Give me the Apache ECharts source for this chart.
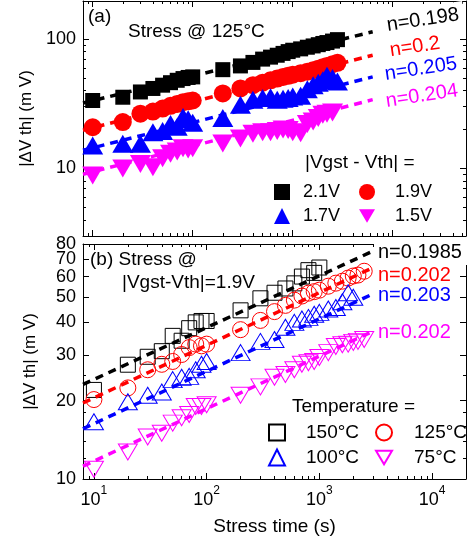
<!DOCTYPE html>
<html lang="en">
<head>
<meta charset="UTF-8">
<title>Vth shift vs stress time</title>
<script src="https://cdn.jsdelivr.net/npm/echarts@6/dist/echarts.min.js"></script>
<style>
  html, body { margin: 0; padding: 0; background: #fff; }
  #main { width: 472px; height: 540px; }
</style>
</head>
<body>
<div id="main"></div>
<script>
// ---- (a) stress @ 125C, four |Vgst - Vth| levels ----
var timeA = [10, 20, 30, 40, 50, 60, 70, 80, 90, 100, 200, 300, 400, 500, 600, 700, 800, 900, 1000,
             1200, 1400, 1600, 1800, 2000, 2200, 2500, 2800];
var dv21 = [33.5, 35.5, 39, 41.5, 44, 46, 48, 49.5, 50.5, 51, 58, 62, 66, 70, 72.5, 75, 77.5, 80, 82,
            84, 86.5, 88.5, 90.5, 92.5, 94, 96.5, 99];
var dv19 = [20.8, 22.8, 26.5, 27.5, 29, 30.5, 31.5, 32.5, 33, 33.5, 38, 41.5, 44, 46, 48, 49.5, 51, 52, 53,
            54.5, 56, 57.5, 59, 60.5, 62, 64, 65.5];
var dv17 = [15, 15.5, 15.5, 19, 19.5, 22, 21, 25, 24, 22.5, 24.5, 31, 34, 35, 35.5, 34, 34.5, 35, 36,
            36.5, 41, 44, 46, 48, 52, 50, 47];
var dv15 = [8.8, 10, 10.8, 10.2, 12, 13, 13.5, 14.3, 14, 14.3, 15.6, 17, 18.5, 19, 19, 19.5, 20, 19.8, 19,
            18.7, 22, 23, 24.5, 26, 26.5, 27, null];
// fitted power-law lines, end points
var fitTimeA = [8, 6300];
var fit21 = [32, 114];
var fit19 = [19.7, 75];
var fit17 = [13.8, 51];
var fit15 = [9, 34];
var slopeA = ['n=0.198', 'n=0.2', 'n=0.205', 'n=0.204'];

// ---- (b) |Vgst - Vth| = 1.9V, four temperatures ----
var timeB = [10, 20, 30, 40, 50, 60, 70, 80, 90, 100, 200, 300, 400, 500, 600, 700, 800, 900, 1000,
             1200, 1400, 1600, 1800, 2000, 2200, 2500];
var dv150 = [22, 27.5, 29.5, 31, 35.5, 34, 38, 40, 40.5, 40.5, 44.5, 49.5, 52, 54, 56.5, 60, 63.5, 62, 65,
             null, null, null, null, null, null, null];
var dv125 = [20.2, 22.4, 26.3, 27.6, 28.3, 30.1, 32, 33, 32.5, 33, 37.5, 40.7, 44, 46.5, 48.7, 50.5, 51.8, 52.5, 53.2,
             55.1, 56.6, 57.6, 59.2, 60.3, 60.8, 62.9];
var dv100 = [16.6, 19.8, 21, 21.6, 24.1, 24.6, 24.8, 26.3, 27.6, 28.3, 30.6, 33.8, 34.4, 38.3, 40, 41.2, 41.8, 43, 43.7,
             45, 45.6, 48, 52, 50, null, null];
var dv75 = [10.9, 12.7, 14.5, 15, 16.4, 17.2, 17.7, 19, 19, 19.3, 21, 22.6, 24.6, 25.2, 26.3, 27.6, 28, 28.3, 29.3,
            30.6, 32.3, 32.8, 33, 33.5, 33.8, 34.4];
var fitTimeB = [8, 3000];
var fit150 = [23.1, 75.2];
var fit125 = [19.6, 65];
var fit100 = [15.6, 51.5];
var fit75 = [11.2, 37];
var slopeB = ['n=0.1985', 'n=0.202', 'n=0.203', 'n=0.202'];

// tick values
var xMajor = [10, 100, 1000, 10000];
var xMinorA = [8, 9, 20, 30, 40, 50, 60, 70, 80, 90, 200, 300, 400, 500, 600, 700, 800, 900,
               2000, 3000, 4000, 5000, 6000, 7000, 8000, 9000, 20000, 30000, 40000, 50000];
var xMinorB = xMinorA.filter(function (v) { return v < 20000; });
var yMajorA = [10, 100];
var yMinorA = [3, 4, 5, 6, 7, 8, 9, 20, 30, 40, 50, 60, 70, 80, 90];
var yMajorB = [10, 20, 30, 40, 50, 60, 70, 80];
var yMinorB = [12, 14, 16, 18, 25];

var FONT = 'Liberation Sans, Arial, sans-serif';
var colors = ['#000000', '#ff0000', '#0000ff', '#ff00ff'];
var downTri = 'path://M0,0 L20,0 L10,17 Z';

var rangeXA = [8, 54000], rangeXB = [8, 20000];
var rangeYA = [3, 197], rangeYB = [10, 80.05];

function axisPair(grid, side, range, major, minor, label, extra, minorLabel) {
    var base = { type: 'log', gridIndex: grid, position: side, min: range[0], max: range[1],
                 splitLine: { show: false }, minorTick: { show: false } };
    var a = Object.assign({}, base, {
        axisLine: { show: true, onZero: false, lineStyle: { color: '#000', width: 1 } },
        axisTick: { show: true, inside: true, length: 6, customValues: major, lineStyle: { color: '#000', width: 1 } },
        axisLabel: label || { show: false }
    }, extra || {});
    var b = Object.assign({}, base, {
        axisLine: { show: false },
        axisTick: { show: true, inside: true, length: 3, customValues: minor, lineStyle: { color: '#000', width: 1 } },
        axisLabel: minorLabel || { show: false }
    });
    return [a, b];
}

var yName = {
    name: '|\u0394V th| (m V)', nameLocation: 'middle', nameGap: 44,
    nameTextStyle: { fontFamily: FONT, fontSize: 17, color: '#000' }
};
var yLabel = { show: true, fontFamily: FONT, fontSize: 18, color: '#000', margin: 7,
               hideOverlap: false, showMaxLabel: true, showMinLabel: true };
function yLabelAt(vals) { return Object.assign({ customValues: vals }, yLabel); }

var xAxes = [].concat(
    axisPair(0, 'bottom', rangeXA, xMajor, xMinorA),
    axisPair(0, 'top', rangeXA, xMajor, xMinorA),
    axisPair(1, 'bottom', rangeXB, xMajor, xMinorB, {
        show: true, customValues: xMajor, margin: 6,
        formatter: function (v) { return '{b|10}{s|' + Math.round(Math.log10(v)) + '}'; },
        rich: {
            b: { fontFamily: FONT, fontSize: 18, color: '#000', verticalAlign: 'bottom', lineHeight: 24 },
            s: { fontFamily: FONT, fontSize: 12, color: '#000', verticalAlign: 'top', lineHeight: 24 }
        }
    }, {
        name: 'Stress time (s)', nameLocation: 'middle', nameGap: 38,
        nameTextStyle: { fontFamily: FONT, fontSize: 19, color: '#000' }
    }),
    axisPair(1, 'top', rangeXB, xMajor, xMinorB)
);
// the crowded labels of (b) are shared between the two left axes (every other one),
// so ECharts keeps all of 10 ... 80 even though 60 / 70 / 80 touch each other
var labelsB1 = yMajorB.filter(function (v, i) { return i < 4 || i % 2 === 1; });
var labelsB2 = yMajorB.filter(function (v, i) { return i >= 4 && i % 2 === 0; });
var yAxes = [].concat(
    axisPair(0, 'left', rangeYA, yMajorA, yMinorA, yLabelAt(yMajorA), yName),
    axisPair(0, 'right', rangeYA, yMajorA, yMinorA),
    axisPair(1, 'left', rangeYB, yMajorB, yMinorB, yLabelAt(labelsB1), yName, yLabelAt(labelsB2)),
    axisPair(1, 'right', rangeYB, yMajorB, yMinorB)
);

function pairs(ts, vs) {
    var out = [];
    for (var i = 0; i < ts.length; i++) if (vs[i] != null) out.push([ts[i], vs[i]]);
    return out;
}

function fitLine(axisIdx, ts, vs, color, z) {
    return {
        type: 'line', xAxisIndex: axisIdx, yAxisIndex: axisIdx, data: pairs(ts, vs),
        symbol: 'none', silent: true, z: z,
        lineStyle: { color: color, width: 3.5, type: [8, 6] }
    };
}

function dots(name, axisIdx, ts, vs, color, symbol, size, rotate, filled) {
    return {
        type: 'scatter', name: name, xAxisIndex: axisIdx, yAxisIndex: axisIdx,
        data: pairs(ts, vs), symbol: symbol, symbolSize: size, symbolRotate: rotate || 0, z: 3,
        itemStyle: filled ? { color: color, opacity: 1 }
                          : { color: 'rgba(0,0,0,0)', borderColor: color, borderWidth: 1, opacity: 1 }
    };
}

var series = [
    fitLine(0, fitTimeA, fit21, colors[0], 2),
    fitLine(0, fitTimeA, fit19, colors[1], 2),
    fitLine(0, fitTimeA, fit17, colors[2], 2),
    fitLine(0, fitTimeA, fit15, colors[3], 2),
    dots('2.1V', 0, timeA, dv21, colors[0], 'rect', 15, 0, true),
    dots('1.9V', 0, timeA, dv19, colors[1], 'circle', 18, 0, true),
    dots('1.7V', 0, timeA, dv17, colors[2], 'triangle', [21, 18], 0, true),
    dots('1.5V', 0, timeA, dv15, colors[3], 'triangle', [21, 18], 180, true),
    dots('150\u00b0C', 4, timeB, dv150, colors[0], 'rect', 15, 0, false),
    dots('125\u00b0C', 4, timeB, dv125, colors[1], 'circle', 16, 0, false),
    dots('100\u00b0C', 4, timeB, dv100, colors[2], 'triangle', [19, 16], 0, false),
    dots('75\u00b0C', 4, timeB, dv75, colors[3], 'triangle', [19, 16], 180, false),
    fitLine(4, fitTimeB, fit150, colors[0], 5),
    fitLine(4, fitTimeB, fit125, colors[1], 5),
    fitLine(4, fitTimeB, fit100, colors[2], 5),
    fitLine(4, fitTimeB, fit75, colors[3], 5)
];

// one legend row = two entries; the second column gets a wider gap before its text
function legendRow(names, left, top, gap, padA, padB, size) {
    return {
        data: [{ name: names[0] }, { name: names[1], icon: names[1] === '1.5V' || names[1] === '75\u00b0C' ? downTri : undefined }],
        left: left, top: top, width: 300, padding: 0, orient: 'horizontal', itemWidth: 16, itemHeight: 16,
        itemGap: gap, selectedMode: false,
        formatter: function (n) { return (n === names[0] ? '{a|' : '{b|') + n + '}'; },
        textStyle: {
            fontFamily: FONT, fontSize: size, color: '#000',
            rich: {
                a: { fontFamily: FONT, fontSize: size, color: '#000', padding: [0, 0, 0, padA] },
                b: { fontFamily: FONT, fontSize: size, color: '#000', padding: [0, 0, 0, padB] }
            }
        }
    };
}

function label(txt, x, y, color, size, rot, bg) {
    return {
        type: 'text', x: x, y: y, rotation: rot || 0, z: 100,
        style: {
            text: txt, fill: color, font: size + 'px ' + FONT, textAlign: 'left', textVerticalAlign: 'middle',
            backgroundColor: bg || null, padding: bg ? [3, 6, 3, 4] : 0
        }
    };
}

function slopeText(txt, cx, cy, color, rot, bg) {
    return {
        type: 'text', x: cx, y: cy, rotation: rot, z: 100,
        style: {
            text: txt, fill: color, font: '20px ' + FONT, textAlign: 'center', textVerticalAlign: 'middle',
            backgroundColor: bg || null, padding: bg ? [3, 5, 3, 5] : 0
        }
    };
}

var chart = echarts.init(document.getElementById('main'), null, { renderer: 'canvas' });
chart.setOption({
    animation: false,
    backgroundColor: '#fff',
    grid: [
        { left: 83, top: 1, width: 383, height: 235 },
        { left: 83, top: 244, width: 383, height: 235 }
    ],
    xAxis: xAxes,
    yAxis: yAxes,
    legend: [
        legendRow(['2.1V', '1.9V'], 274, 183, 19, 8, 15, 18),
        legendRow(['1.7V', '1.5V'], 274, 207, 19, 8, 15, 18),
        legendRow(['150\u00b0C', '125\u00b0C'], 268, 423, 16, 16, 17, 19),
        legendRow(['100\u00b0C', '75\u00b0C'], 268, 448, 16, 16, 17, 19)
    ],
    graphic: [
        label('(a)', 88, 17, '#000', 19),
        label('Stress @ 125\u00b0C', 128, 32, '#000', 19),
        slopeText(slopeA[0], 423, 20, colors[0], 0.15, '#fff'),
        slopeText(slopeA[1], 415, 47, colors[1], 0.15),
        slopeText(slopeA[2], 421, 69, colors[2], 0.15),
        slopeText(slopeA[3], 422, 96, colors[3], 0.15),
        label('|Vgst - Vth| =', 305, 163, '#000', 19),
        label('(b) Stress @', 90, 260, '#000', 19),
        label('|Vgst-Vth|=1.9V', 122, 283, '#000', 19),
        label(slopeB[0], 374, 252, colors[0], 20, 0, '#fff'),
        label(slopeB[1], 378, 275, colors[1], 20),
        label(slopeB[2], 378, 295, colors[2], 20),
        label(slopeB[3], 378, 332, colors[3], 20),
        label('Temperature =', 292, 407, '#000', 19)
    ],
    series: series
});
</script>
</body>
</html>
